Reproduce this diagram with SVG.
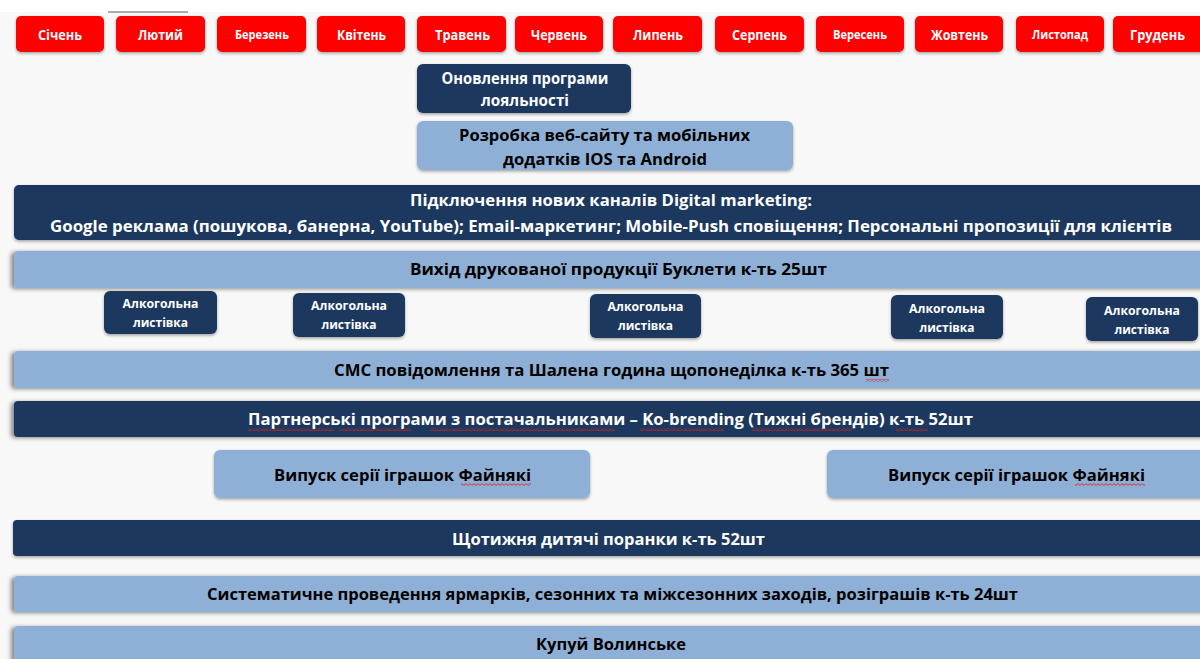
<svg xmlns="http://www.w3.org/2000/svg" width="1200" height="659" viewBox="0 0 1200 659">
<defs>
<filter id="sh" x="-10%" y="-30%" width="120%" height="160%">
<feDropShadow dx="0" dy="1.5" stdDeviation="1.8" flood-color="#000" flood-opacity="0.35"/>
</filter>
<filter id="shl" x="-5%" y="-40%" width="110%" height="180%">
<feDropShadow dx="-3" dy="1" stdDeviation="2" flood-color="#000" flood-opacity="0.45"/>
</filter>
<pattern id="wave" width="4" height="3" patternUnits="userSpaceOnUse">
<path d="M0 2.4 L2 0.6 L4 2.4" stroke="#e0201c" stroke-width="0.9" fill="none"/>
</pattern>
<style>
.mon{fill:#ff0000;filter:url(#sh)}
.dk{fill:#1b375e}
.lt{fill:#8fb0d6}
.t{font-family:"Open Sans","Noto Sans","DejaVu Sans",sans-serif;font-weight:700;text-anchor:middle}
.w{fill:#ffffff}
.b{fill:#000000}
.wv{fill:url(#wave)}
</style>
</defs>
<rect x="0" y="0" width="1200" height="659" fill="#f8f8f8"/>
<rect x="0" y="0" width="1200" height="12" fill="#ffffff"/>
<rect x="108" y="11" width="80" height="2" fill="#777" opacity="0.6"/>

<g id="months">
<g id="m1"><rect class="mon" x="16" y="16" width="88" height="36" rx="5"/><text class="t w" x="60" y="40" font-size="14.5" textLength="44" lengthAdjust="spacingAndGlyphs">Січень</text></g>
<g id="m2"><rect class="mon" x="116" y="16" width="89" height="36" rx="5"/><text class="t w" x="160.5" y="40" font-size="14.5" textLength="45" lengthAdjust="spacingAndGlyphs">Лютий</text></g>
<g id="m3"><rect class="mon" x="217" y="16" width="89" height="36" rx="5"/><text class="t w" x="262" y="39" font-size="11.5" textLength="54" lengthAdjust="spacingAndGlyphs">Березень</text></g>
<g id="m4"><rect class="mon" x="317" y="16" width="88" height="36" rx="5"/><text class="t w" x="361.5" y="40" font-size="14.5" textLength="49" lengthAdjust="spacingAndGlyphs">Квітень</text></g>
<g id="m5"><rect class="mon" x="417" y="16" width="89" height="36" rx="5"/><text class="t w" x="462.5" y="40" font-size="13.5" textLength="55" lengthAdjust="spacingAndGlyphs">Травень</text></g>
<g id="m6"><rect class="mon" x="515" y="16" width="88" height="36" rx="5"/><text class="t w" x="559" y="40" font-size="13.5" textLength="56" lengthAdjust="spacingAndGlyphs">Червень</text></g>
<g id="m7"><rect class="mon" x="613" y="16" width="89" height="36" rx="5"/><text class="t w" x="658" y="40" font-size="13.5" textLength="50" lengthAdjust="spacingAndGlyphs">Липень</text></g>
<g id="m8"><rect class="mon" x="715" y="16" width="89" height="36" rx="5"/><text class="t w" x="759.5" y="40" font-size="13.5" textLength="55" lengthAdjust="spacingAndGlyphs">Серпень</text></g>
<g id="m9"><rect class="mon" x="816" y="16" width="88" height="36" rx="5"/><text class="t w" x="860" y="39" font-size="11.5" textLength="54" lengthAdjust="spacingAndGlyphs">Вересень</text></g>
<g id="m10"><rect class="mon" x="915" y="16" width="88" height="36" rx="5"/><text class="t w" x="959.5" y="40" font-size="14.5" textLength="57" lengthAdjust="spacingAndGlyphs">Жовтень</text></g>
<g id="m11"><rect class="mon" x="1016" y="16" width="88" height="36" rx="5"/><text class="t w" x="1060" y="39" font-size="11.5" textLength="56" lengthAdjust="spacingAndGlyphs">Листопад</text></g>
<g id="m12"><rect class="mon" x="1113" y="16" width="92" height="36" rx="5"/><text class="t w" x="1157.5" y="40" font-size="14.5" textLength="55" lengthAdjust="spacingAndGlyphs">Грудень</text></g>
</g>

<g id="loyalty">
<rect class="dk" filter="url(#sh)" x="417" y="64" width="214" height="49" rx="6"/>
<text class="t w" x="525" y="84" font-size="15.5" textLength="167" lengthAdjust="spacingAndGlyphs">Оновлення програми</text>
<text class="t w" x="525" y="106" font-size="15.5" textLength="88" lengthAdjust="spacingAndGlyphs">лояльності</text>
</g>

<g id="website">
<rect class="lt" filter="url(#sh)" x="417" y="121" width="376" height="49" rx="6"/>
<text class="t b" x="604.5" y="141" font-size="16.5" textLength="291" lengthAdjust="spacingAndGlyphs">Розробка веб-сайту та мобільних</text>
<text class="t b" x="605" y="165" font-size="16.5" textLength="204" lengthAdjust="spacingAndGlyphs">додатків IOS та Android</text>
</g>

<g id="digital">
<rect class="dk" filter="url(#sh)" x="14" y="185" width="1200" height="55" rx="5"/>
<text class="t w" x="611" y="206" font-size="16.5" textLength="402" lengthAdjust="spacingAndGlyphs">Підключення нових каналів Digital marketing:</text>
<text class="t w" x="611" y="232" font-size="16.5" textLength="1122" lengthAdjust="spacingAndGlyphs">Google реклама (пошукова, банерна, YouTube); Email-маркетинг; Mobile-Push сповіщення; Персональні пропозиції для клієнтів</text>
</g>

<g id="print">
<rect class="lt" filter="url(#shl)" x="14" y="251" width="1200" height="37" rx="4"/>
<text class="t b" x="618.5" y="275" font-size="16.5" textLength="417" lengthAdjust="spacingAndGlyphs">Вихід друкованої продукції Буклети к-ть 25шт</text>
</g>

<g id="alc1">
<rect class="dk" filter="url(#sh)" x="104" y="291" width="113" height="43" rx="6"/>
<text class="t w" x="160.5" y="308" font-size="12" textLength="76" lengthAdjust="spacingAndGlyphs">Алкогольна</text>
<text class="t w" x="160.5" y="327" font-size="12" textLength="55" lengthAdjust="spacingAndGlyphs">листівка</text>
</g>
<g id="alc2">
<rect class="dk" filter="url(#sh)" x="293" y="293" width="112" height="44" rx="6"/>
<text class="t w" x="349" y="310" font-size="12" textLength="76" lengthAdjust="spacingAndGlyphs">Алкогольна</text>
<text class="t w" x="349" y="329" font-size="12" textLength="55" lengthAdjust="spacingAndGlyphs">листівка</text>
</g>
<g id="alc3">
<rect class="dk" filter="url(#sh)" x="590" y="294" width="111" height="44" rx="6"/>
<text class="t w" x="645.5" y="311" font-size="12" textLength="76" lengthAdjust="spacingAndGlyphs">Алкогольна</text>
<text class="t w" x="645.5" y="330" font-size="12" textLength="55" lengthAdjust="spacingAndGlyphs">листівка</text>
</g>
<g id="alc4">
<rect class="dk" filter="url(#sh)" x="891" y="295" width="112" height="44" rx="6"/>
<text class="t w" x="947" y="313" font-size="12" textLength="76" lengthAdjust="spacingAndGlyphs">Алкогольна</text>
<text class="t w" x="947" y="332" font-size="12" textLength="55" lengthAdjust="spacingAndGlyphs">листівка</text>
</g>
<g id="alc5">
<rect class="dk" filter="url(#sh)" x="1086" y="297" width="112" height="44" rx="6"/>
<text class="t w" x="1142" y="315" font-size="12" textLength="76" lengthAdjust="spacingAndGlyphs">Алкогольна</text>
<text class="t w" x="1142" y="334" font-size="12" textLength="55" lengthAdjust="spacingAndGlyphs">листівка</text>
</g>

<g id="sms">
<rect class="lt" filter="url(#shl)" x="14" y="351" width="1200" height="37" rx="4"/>
<text class="t b" x="611.5" y="376" font-size="16.5" textLength="555" lengthAdjust="spacingAndGlyphs">СМС повідомлення та Шалена година щопонеділка к-ть 365 шт</text>
<rect class="wv" x="866" y="379" width="23" height="3"/>
</g>

<g id="partners">
<rect class="dk" filter="url(#shl)" x="14" y="401" width="1200" height="36" rx="4"/>
<text class="t w" x="610.5" y="425" font-size="16.5" textLength="725" lengthAdjust="spacingAndGlyphs">Партнерські програми з постачальниками – Ko-brending (Тижні брендів) к-ть 52шт</text>
<rect class="wv" x="248" y="428" width="86" height="3"/>
<rect class="wv" x="339" y="428" width="72" height="3"/>
<rect class="wv" x="430" y="428" width="185" height="3"/>
<rect class="wv" x="640" y="428" width="84" height="3"/>
<rect class="wv" x="752" y="428" width="100" height="3"/>
<rect class="wv" x="896" y="428" width="32" height="3"/>
</g>

<g id="toys1">
<rect class="lt" filter="url(#sh)" x="214" y="450" width="376" height="48" rx="6"/>
<text class="t b" x="402.5" y="481" font-size="16.5" textLength="257" lengthAdjust="spacingAndGlyphs">Випуск серії іграшок Файнякі</text>
<rect class="wv" x="461" y="483" width="70" height="3"/>
</g>
<g id="toys2">
<rect class="lt" filter="url(#sh)" x="827" y="450" width="380" height="48" rx="6"/>
<text class="t b" x="1016.5" y="481" font-size="16.5" textLength="257" lengthAdjust="spacingAndGlyphs">Випуск серії іграшок Файнякі</text>
<rect class="wv" x="1075" y="483" width="70" height="3"/>
</g>

<g id="kids">
<rect class="dk" filter="url(#sh)" x="13" y="520" width="1200" height="36" rx="4"/>
<text class="t w" x="608.5" y="545" font-size="16.5" textLength="313" lengthAdjust="spacingAndGlyphs">Щотижня дитячі поранки к-ть 52шт</text>
</g>

<g id="fairs">
<rect class="lt" filter="url(#shl)" x="14" y="576" width="1200" height="36" rx="4"/>
<text class="t b" x="612.5" y="600" font-size="16.5" textLength="811" lengthAdjust="spacingAndGlyphs">Систематичне проведення ярмарків, сезонних та міжсезонних заходів, розіграшів к-ть 24шт</text>
</g>

<g id="buy">
<rect class="lt" filter="url(#shl)" x="14" y="626" width="1200" height="40" rx="4"/>
<text class="t b" x="611" y="650" font-size="16.5" textLength="150" lengthAdjust="spacingAndGlyphs">Купуй Волинське</text>
</g>

<g id="connectors"></g>
</svg>
